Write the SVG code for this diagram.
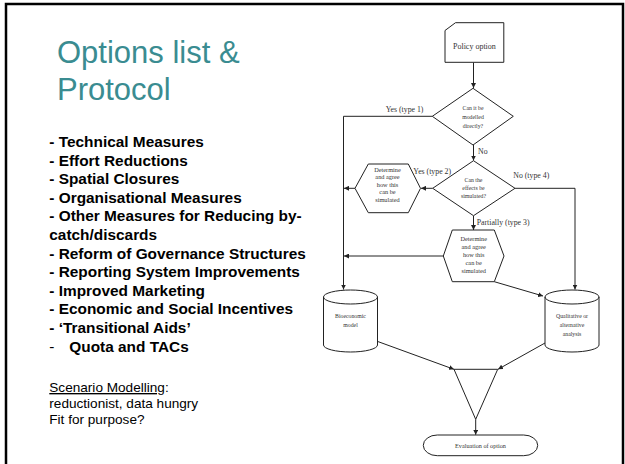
<svg xmlns="http://www.w3.org/2000/svg" width="625" height="464" viewBox="0 0 625 464">
<style>
.shape{fill:#fff;stroke:#222;stroke-width:1}
.con{fill:none;stroke:#222;stroke-width:1}
.t{font-family:"Liberation Serif","Times New Roman",serif;fill:#333;text-anchor:middle}
.lbl{font-family:"Liberation Serif","Times New Roman",serif;fill:#333;font-size:7.8px}
.title{font-family:"Liberation Sans",Arial,sans-serif;fill:#3a8c91;font-size:31px}
.li{font-family:"Liberation Sans",Arial,sans-serif;fill:#000;font-size:15.4px;font-weight:bold}
.sc{font-family:"Liberation Sans",Arial,sans-serif;fill:#000;font-size:13.6px}
</style>
<defs>
<marker id="ah" viewBox="0 0 10 10" refX="10" refY="5" markerWidth="5" markerHeight="5" orient="auto" markerUnits="userSpaceOnUse">
<path d="M0,0 L10,5 L0,10 Z" fill="#222"/>
</marker>
</defs>
<rect x="0" y="0" width="625" height="464" fill="#fff"/>
<rect x="6" y="4" width="617" height="480" fill="none" stroke="#000" stroke-width="2.5"/>

<g id="left-text">
<text class="title" x="57" y="63.3">Options list &amp;</text>
<text class="title" x="57" y="100">Protocol</text>
<text class="li" x="49.3" y="147">- Technical Measures</text>
<text class="li" x="49.3" y="165.6">- Effort Reductions</text>
<text class="li" x="49.3" y="184.2">- Spatial Closures</text>
<text class="li" x="49.3" y="202.8">- Organisational Measures</text>
<text class="li" x="49.3" y="221.4">- Other Measures for Reducing by-</text>
<text class="li" x="49.3" y="240">catch/discards</text>
<text class="li" x="49.3" y="258.6">- Reform of Governance Structures</text>
<text class="li" x="49.3" y="277.2">- Reporting System Improvements</text>
<text class="li" x="49.3" y="295.8">- Improved Marketing</text>
<text class="li" x="49.3" y="314.4">- Economic and Social Incentives</text>
<text class="li" x="49.3" y="333">- ‘Transitional Aids’</text>
<text class="li" x="49.3" y="351.6"><tspan font-weight="normal">-</tspan><tspan x="69.3">Quota and TACs</tspan></text>
<text class="sc" x="49.3" y="392"><tspan text-decoration="underline">Scenario Modelling</tspan>:</text>
<text class="sc" x="49.3" y="408">reductionist, data hungry</text>
<text class="sc" x="49.3" y="424">Fit for purpose?</text>
</g>

<g id="connectors">
<path class="con" d="M473.5,62.5 V88" marker-end="url(#ah)"/>
<path class="con" d="M432.3,116.3 H343.5 V289.5" marker-end="url(#ah)"/>
<path class="con" d="M473.5,145 V160.5" marker-end="url(#ah)"/>
<path class="con" d="M432.7,188.3 H421" marker-end="url(#ah)"/>
<path class="con" d="M355,188.3 H344" marker-end="url(#ah)"/>
<path class="con" d="M515,188.3 H575 V289.5" marker-end="url(#ah)"/>
<path class="con" d="M473.5,215.7 V230" marker-end="url(#ah)"/>
<path class="con" d="M443.3,256 H344" marker-end="url(#ah)"/>
<path class="con" d="M494.3,281.7 L543,296" marker-end="url(#ah)"/>
<path class="con" d="M375,340.5 L454,369.3" marker-end="url(#ah)"/>
<path class="con" d="M545,343 L498,369.3" marker-end="url(#ah)"/>
<path class="con" d="M475.7,419.3 V434.8" marker-end="url(#ah)"/>
<text class="lbl" x="385.7" y="111.5">Yes (type 1)</text>
<text class="lbl" x="478" y="153.5">No</text>
<text class="lbl" x="413.3" y="174">Yes (type 2)</text>
<text class="lbl" x="513.3" y="177.5">No (type 4)</text>
<text class="lbl" x="476.7" y="225">Partially (type 3)</text>
</g>

<g id="policy-option">
<path class="shape" d="M445,30.5 L455.5,22.7 H503.8 V62.3 H445 Z"/>
<text class="t" x="474.4" y="48.5" font-size="8">Policy option</text>
</g>

<g id="decision-modelled">
<path class="shape" d="M473,88.3 L513.3,116.3 L473,145 L432.3,116.3 Z"/>
<text class="t" x="473" y="110" font-size="5.8">Can it be</text>
<text class="t" x="473" y="118.5" font-size="5.8">modelled</text>
<text class="t" x="473" y="127.5" font-size="5.8">directly?</text>
</g>

<g id="decision-simulated">
<path class="shape" d="M473.5,160.7 L515,188.3 L473.5,215.7 L432.7,188.3 Z"/>
<text class="t" x="473.5" y="181.5" font-size="5.8">Can the</text>
<text class="t" x="473.5" y="189.8" font-size="5.8">effects be</text>
<text class="t" x="473.5" y="198" font-size="5.8">simulated?</text>
</g>

<g id="determine-1">
<path class="shape" d="M355,188.3 L368.3,164 H408.3 L420.5,188.3 L408.3,212.7 H368.3 Z"/>
<text class="t" x="387.5" y="171.5" font-size="6.3">Determine</text>
<text class="t" x="387.5" y="179" font-size="6.3">and agree</text>
<text class="t" x="387.5" y="186.5" font-size="6.3">how this</text>
<text class="t" x="387.5" y="194" font-size="6.3">can be</text>
<text class="t" x="387.5" y="201.7" font-size="6.3">simulated</text>
</g>

<g id="determine-2">
<path class="shape" d="M443.3,256 L452.3,230 H494.3 L504,256 L494.3,281.7 H452.3 Z"/>
<text class="t" x="473.7" y="240.5" font-size="6.3">Determine</text>
<text class="t" x="473.7" y="248.5" font-size="6.3">and agree</text>
<text class="t" x="473.7" y="256.5" font-size="6.3">how this</text>
<text class="t" x="473.7" y="264.5" font-size="6.3">can be</text>
<text class="t" x="473.7" y="272.5" font-size="6.3">simulated</text>
</g>

<g id="bioeconomic-model">
<path class="shape" d="M323.5,297 A27,7 0 0 1 377.5,297 V345 A27,7 0 0 1 323.5,345 Z"/>
<path class="con" d="M323.5,297 A27,7 0 0 0 377.5,297"/>
<text class="t" x="350.5" y="318" font-size="5.8">Bioeconomic</text>
<text class="t" x="350.5" y="326.5" font-size="5.8">model</text>
</g>

<g id="qualitative-analysis">
<path class="shape" d="M545,297 A27,7 0 0 1 599,297 V345 A27,7 0 0 1 545,345 Z"/>
<path class="con" d="M545,297 A27,7 0 0 0 599,297"/>
<text class="t" x="572" y="318" font-size="5.8">Qualitative or</text>
<text class="t" x="572" y="327" font-size="5.8">alternative</text>
<text class="t" x="572" y="335.5" font-size="5.8">analysis</text>
</g>

<g id="merge">
<path class="shape" d="M454,369.3 H497.7 L475.7,419.3 Z"/>
</g>

<g id="evaluation">
<rect class="shape" x="423.3" y="435" width="114.4" height="20.7" rx="14" ry="10.3"/>
<text class="t" x="480.5" y="448" font-size="6.2">Evaluation of option</text>
</g>
</svg>
